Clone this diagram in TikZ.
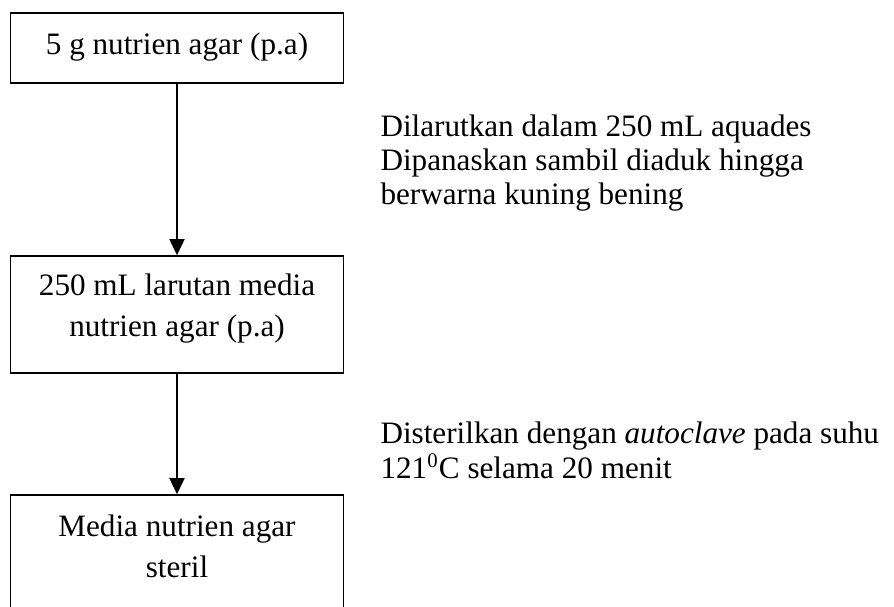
\documentclass[tikz,border=0pt]{standalone}
\usepackage{fontspec}
\setmainfont{Liberation Serif}
\usetikzlibrary{arrows.meta}
\newdimen\px
\px=0.385pt

\begin{document}
\begin{tikzpicture}[x=0.385pt, y=-0.385pt,
    box/.style={draw, line width=0.6pt, minimum width=333\px, inner xsep=0pt,
      inner ysep=0pt, align=center, font=\fontsize{12pt}{15.6pt}\selectfont},
    note/.style={anchor=north west, inner sep=0pt, align=left},
    flow/.style={-{Triangle[width=5.8pt,length=6.2pt]}, line width=0.65pt}]
  \useasboundingbox (0,0) rectangle (894,606);
  \clip (0,0) rectangle (894,606);

  % boxes
  \node[box, text height=41\px, text depth=29\px, anchor=base] (agar) at (177,54)
    {5 g nutrien agar (p.a)};
  \node[box, text height=80\px, text depth=37\px, anchor=base] (larutan) at (177,336)
    {250 mL larutan media\\nutrien agar (p.a)};
  \node[box, text height=82\px, text depth=70\px, anchor=base] (media) at (177,577)
    {Media nutrien agar\\steril};

  % arrows
  \draw[flow] (agar) -- (larutan);
  \draw[flow] (larutan) -- (media);

  % steps
  \node[note, font=\fontsize{12pt}{13.1pt}\selectfont] (larut) at (380,114)
    {Dilarutkan dalam 250 mL aquades\\Dipanaskan sambil diaduk hingga\\berwarna kuning bening};
  \node[note, font=\fontsize{12pt}{13.7pt}\selectfont] (steril) at (380,421)
    {Disterilkan dengan \textit{autoclave} pada suhu\\121\textsuperscript{0}C selama 20 menit};
\end{tikzpicture}
\end{document}
